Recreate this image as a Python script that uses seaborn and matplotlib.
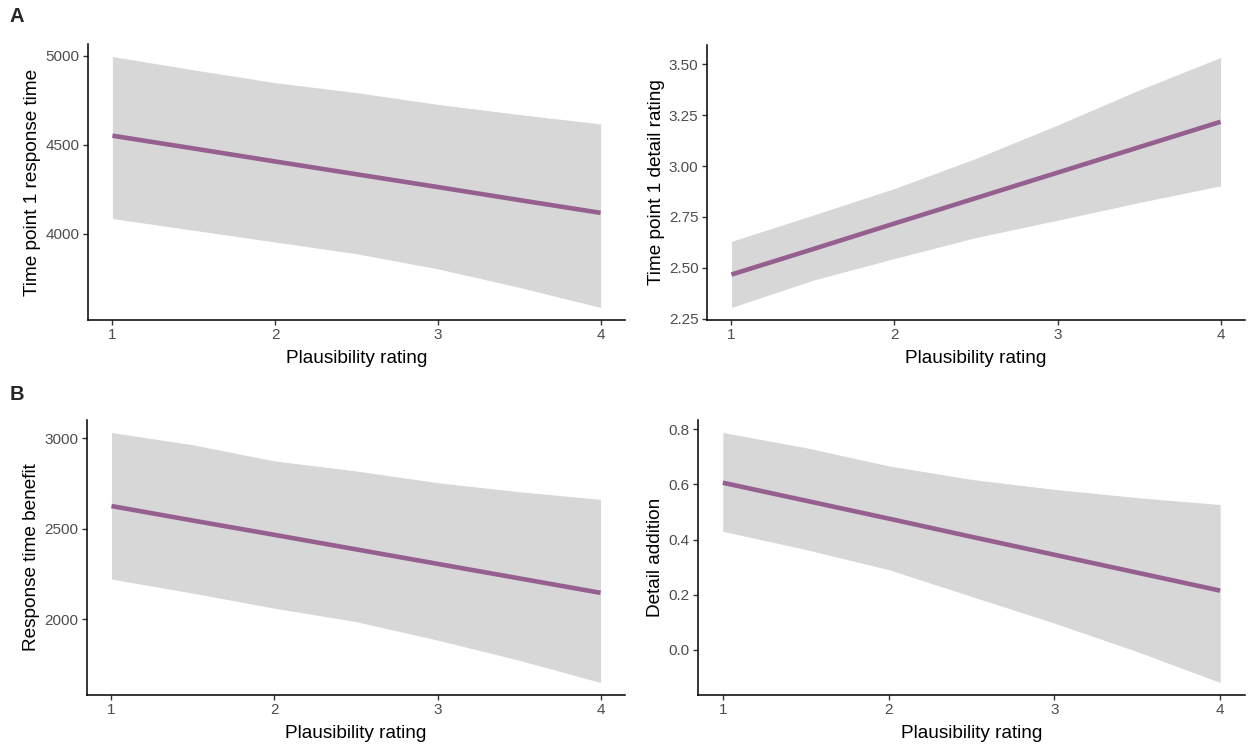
import numpy as np
import pandas as pd
import matplotlib
matplotlib.use("Agg")
import matplotlib.pyplot as plt
import seaborn as sns

# plausibility rating (x) shared by all panels
rating = [1.0, 1.5, 2.0, 2.5, 3.0, 3.5, 4.0]

# A left: time point 1 response time
rt1_fit = [4551, 4479, 4406, 4334, 4262, 4189, 4117]
rt1_lo = [4085, 4019, 3953, 3887, 3802, 3698, 3585]
rt1_hi = [4996, 4921, 4849, 4793, 4727, 4670, 4617]

# A right: time point 1 detail rating
det1_fit = [2.467, 2.592, 2.718, 2.843, 2.968, 3.093, 3.218]
det1_lo = [2.305, 2.439, 2.546, 2.649, 2.734, 2.821, 2.903]
det1_hi = [2.630, 2.759, 2.890, 3.038, 3.202, 3.374, 3.534]

# B left: response time benefit
rtb_fit = [2625, 2545, 2466, 2386, 2306, 2226, 2146]
rtb_lo = [2222, 2144, 2061, 1987, 1885, 1774, 1651]
rtb_hi = [3031, 2963, 2874, 2819, 2754, 2704, 2662]

# B right: detail addition
dadd_fit = [0.606, 0.541, 0.476, 0.410, 0.345, 0.280, 0.215]
dadd_lo = [0.430, 0.364, 0.291, 0.194, 0.097, -0.006, -0.118]
dadd_hi = [0.788, 0.733, 0.667, 0.618, 0.582, 0.552, 0.527]

sns.set_style("white")
plt.rcParams["font.family"] = ["Liberation Sans", "DejaVu Sans"]

W, H = 1248, 744
fig = plt.figure(figsize=(W / 100, H / 100), dpi=100)


def make_ax(l, t, r, b):
    return fig.add_axes([l / W, 1 - b / H, (r - l) / W, (b - t) / H])


panels = [
    (make_ax(88, 44, 625, 320), rt1_fit, rt1_lo, rt1_hi, "Time point 1 response time", [4000, 4500, 5000], "{:.0f}"),
    (make_ax(707, 45, 1245, 320), det1_fit, det1_lo, det1_hi, "Time point 1 detail rating",
     [2.25, 2.50, 2.75, 3.00, 3.25, 3.50], "{:.2f}"),
    (make_ax(87, 420, 625, 695), rtb_fit, rtb_lo, rtb_hi, "Response time benefit", [2000, 2500, 3000], "{:.0f}"),
    (make_ax(698, 420, 1245, 695), dadd_fit, dadd_lo, dadd_hi, "Detail addition",
     [0.0, 0.2, 0.4, 0.6, 0.8], "{:.1f}"),
]

for ax, fit, lo, hi, ylab, yt, fmt in panels:
    ax.fill_between(rating, lo, hi, color="#D7D7D7", lw=0)
    df = pd.DataFrame({"rating": rating, "fit": fit})
    sns.lineplot(data=df, x="rating", y="fit", ax=ax, color="#95608F", lw=3.3,
                 solid_capstyle="butt")
    ax.margins(x=0.05, y=0.05)
    ax.set_xticks([1, 2, 3, 4])
    ax.set_xticklabels(["1", "2", "3", "4"])
    ax.set_yticks(yt)
    ax.set_yticklabels([fmt.format(v) for v in yt])
    ax.set_xlabel("Plausibility rating", fontsize=13.7, color="black", labelpad=5.5)
    ax.set_ylabel(ylab, fontsize=13.7, color="black", labelpad=3)
    for s in ["top", "right"]:
        ax.spines[s].set_visible(False)
    for s in ["left", "bottom"]:
        ax.spines[s].set_color("black")
        ax.spines[s].set_linewidth(1.1)
    ax.tick_params(axis="both", direction="out", length=3.4, width=1, color="#333333",
                   labelsize=11, labelcolor="#4D4D4D", bottom=True, left=True, pad=2.7)

fig.text(10 / W, 1 - 17 / H, "A", fontsize=14.5, fontweight="bold", va="center", ha="left")
fig.text(10 / W, 1 - 394 / H, "B", fontsize=14.5, fontweight="bold", va="center", ha="left")

fig.savefig("out.png", dpi=100)
